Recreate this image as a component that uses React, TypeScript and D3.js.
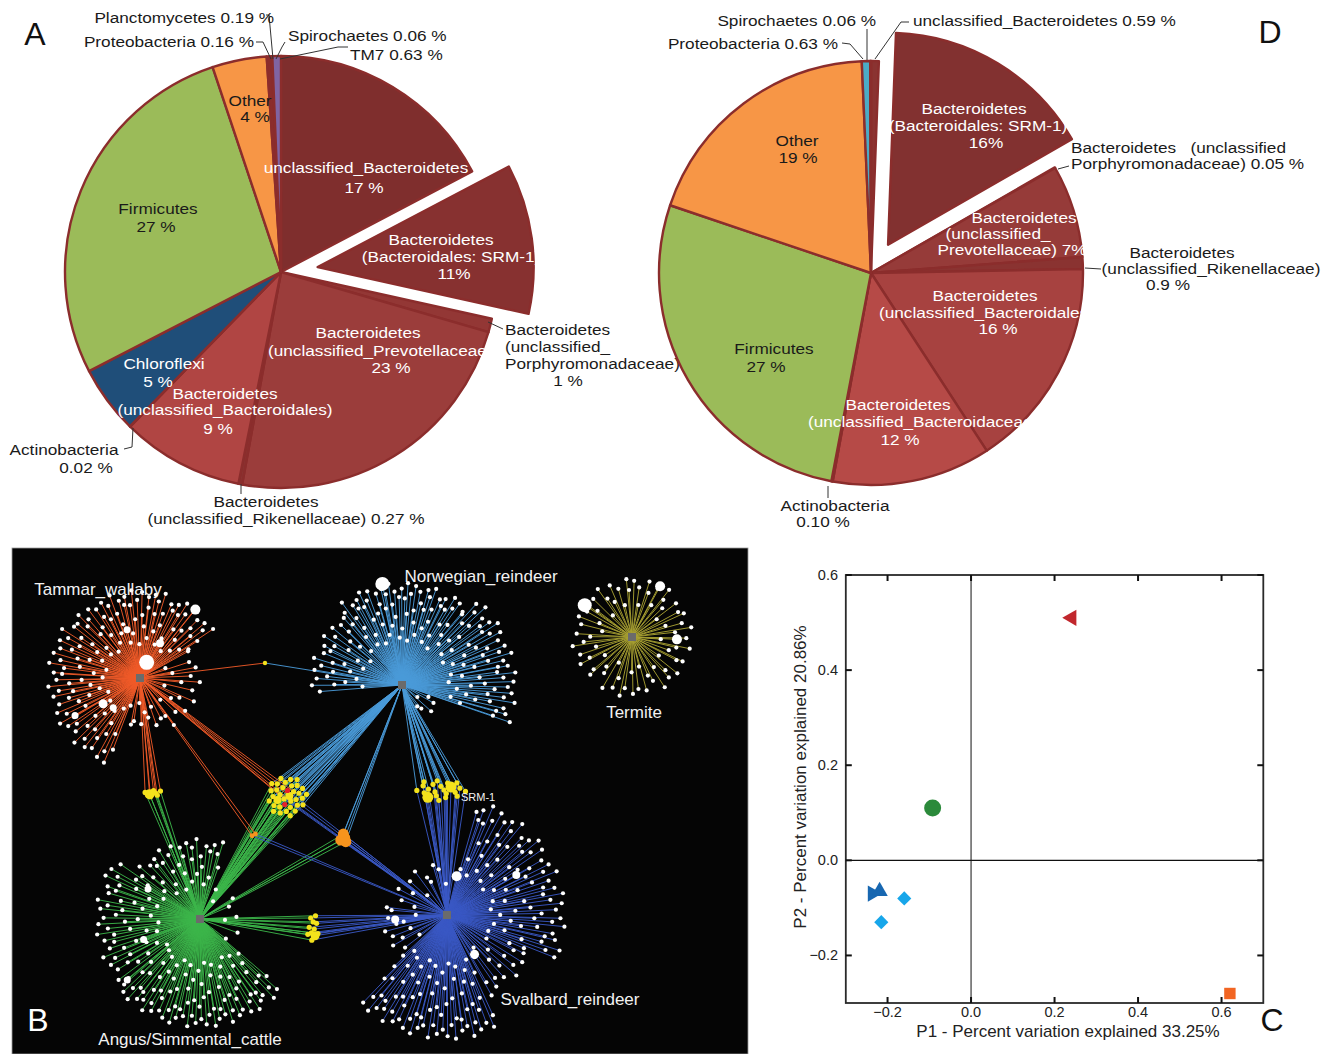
import React from "react";
import * as d3 from "d3";

const FONT = "'Liberation Sans', Arial, Helvetica, sans-serif";

// ---------------- Panel A: taxa composition (pie) ----------------
const taxaA = [
  "unclassified_Bacteroidetes",
  "Bacteroidetes (Bacteroidales: SRM-1)",
  "Bacteroidetes (unclassified_Porphyromonadaceae)",
  "Bacteroidetes (unclassified_Prevotellaceae)",
  "Bacteroidetes (unclassified_Rikenellaceae)",
  "Bacteroidetes (unclassified_Bacteroidales)",
  "Actinobacteria",
  "Chloroflexi",
  "Firmicutes",
  "Other",
  "Proteobacteria",
  "Planctomycetes",
  "Spirochaetes",
  "TM7",
];
const percentA = [17, 11, 1, 23, 0.27, 9, 0.02, 5, 27, 4, 0.16, 0.19, 0.06, 0.63];

// ---------------- Panel D: taxa composition (pie) ----------------
const taxaD = [
  "unclassified_Bacteroidetes",
  "Bacteroidetes (Bacteroidales: SRM-1)",
  "Bacteroidetes (unclassified_Porphyromonadaceae)",
  "Bacteroidetes (unclassified_Prevotellaceae)",
  "Bacteroidetes (unclassified_Rikenellaceae)",
  "Bacteroidetes (unclassified_Bacteroidales)",
  "Bacteroidetes (unclassified_Bacteroidaceae)",
  "Actinobacteria",
  "Firmicutes",
  "Other",
  "Proteobacteria",
  "Spirochaetes",
];
const percentD = [0.59, 16, 0.05, 7, 0.9, 16, 12, 0.1, 27, 19, 0.63, 0.06];

const explodedTaxon = "Bacteroidetes (Bacteroidales: SRM-1)";

// ---------------- Panel C: principal coordinates ----------------
const pcoaP1 = [0.241, -0.092, -0.236, -0.219, -0.16, -0.215, 0.62];
const pcoaP2 = [0.51, 0.11, -0.07, -0.065, -0.08, -0.13, -0.28];
const pcoaTicksX = [-0.2, 0.0, 0.2, 0.4, 0.6];
const pcoaTicksY = [-0.2, 0.0, 0.2, 0.4, 0.6];

// ---------------- Panel B: shared-OTU network ----------------
const hubNames = ["Tammar_wallaby", "Norwegian_reindeer", "Termite", "Angus/Simmental_cattle", "Svalbard_reindeer"];
const hubX = [128, 390, 620, 188, 435];
const hubY = [130, 137, 89, 371, 367];
// fans of hub-only OTUs: [fromDeg, toDeg, count, innerReach, outerReach]
const hubFans: number[][][] = [
  [[-50, 60, 66, 22, 88], [60, 150, 18, 18, 60], [150, 200, 10, 18, 50], [200, 310, 66, 22, 92]],
  [[-95, -40, 32, 28, 92], [-40, 40, 66, 32, 102], [40, 110, 62, 32, 114], [110, 150, 6, 15, 40]],
  [[0, 360, 74, 22, 60]],
  [[-55, 20, 36, 22, 80], [230, 305, 52, 28, 104], [180, 230, 46, 30, 108], [130, 180, 46, 30, 108], [20, 130, 8, 15, 40]],
  [[15, 115, 82, 28, 118], [115, 155, 18, 28, 92], [155, 226, 74, 32, 124], [226, 280, 14, 22, 64], [280, 360, 12, 22, 55]],
];
// abundant hub-only OTUs: [deg, reach, size]
const hubBigLeaves: number[][][] = [
  [[23, 17, 7.5], [39, 88, 5], [-15, 50, 3.5], [30, 40, 4], [235, 45, 4.5], [222, 40, 3.5], [240, 75, 3.5]],
  [[-11, 103, 7]],
  [[-56, 57, 7], [29, 58, 5], [93, 45, 5]],
  [[-60, 60, 3.5], [230, 95, 3.5], [250, 60, 3.5]],
  [[14, 40, 5], [145, 48, 4.5], [265, 52, 4], [60, 80, 4]],
];
const spokeReach = [0.92, 0.35, 0.78, 1.0, 0.56, 0.85, 0.18, 0.97, 0.62, 0.45, 0.9, 0.74, 0.28, 0.95, 0.66, 0.86, 0.4, 1.0, 0.7, 0.52, 0.88, 0.22, 0.8];
const spokeTwist = [0.1, -0.3, 0.25, -0.1, 0.35, -0.25, 0.05, 0.3, -0.35, 0.15, -0.05, 0.2, -0.2];

// shared OTU groups: centre, node count, spread, kind, linked hubs [hub, how many nodes]
const sharedCx = [141, 275, 428, 331, 301, 253, 242];
const sharedCy = [245, 248, 242, 290, 381, 115, 286];
const sharedCount = [7, 36, 22, 4, 11, 1, 2];
const sharedRx = [10, 20, 26, 5, 6, 0, 3];
const sharedRy = [4, 21, 11, 5, 15, 0, 3];
const sharedKind = ["yellow", "yellow", "yellow", "orange", "yellow", "yellow", "orange"];
const sharedLinks: number[][][] = [
  [[0, 7], [3, 7]],
  [[1, 36], [3, 36], [0, 6], [4, 5]],
  [[1, 22], [4, 22]],
  [[1, 4], [3, 4], [4, 4]],
  [[3, 11], [4, 11]],
  [[0, 1], [1, 1]],
  [[0, 2], [4, 2]],
];

// ---------------- styles ----------------
const colorsA = ["#7f2e2d", "#873130", "#933735", "#9b3d3b", "#8a3331", "#b04543", "#8a3331", "#1f4e79", "#9bbb59", "#f79646", "#4bacc6", "#8a3331", "#c0504d", "#8064a2"];
const colorsD = ["#8a3331", "#823130", "#8a3331", "#963b39", "#8a3331", "#a74240", "#b64a47", "#8a3331", "#9bbb59", "#f79646", "#4bacc6", "#8a3331"];
const hubColors = ["#f05a28", "#4a9ad8", "#a9a232", "#3cb54a", "#3a58c4"];
const pcoaColors = ["#c1272d", "#2b8a3b", "#1767b1", "#1767b1", "#17a6ea", "#17a6ea", "#f26522"];
const pcoaShapes = ["triLeft", "circle", "triRight", "triUp", "diamond", "diamond", "square"];

type Txt = { t: string; x: number; y: number; a?: "start" | "middle" | "end"; c?: string };

const labelsA: Txt[] = [
  { t: "unclassified_Bacteroidetes", x: 366, y: 167, c: "#fff" },
  { t: "17 %", x: 364, y: 187, c: "#fff" },
  { t: "Bacteroidetes", x: 441, y: 239, c: "#fff" },
  { t: "(Bacteroidales: SRM-1)", x: 451, y: 256, c: "#fff" },
  { t: "11%", x: 454, y: 273, c: "#fff" },
  { t: "Bacteroidetes", x: 368, y: 332, c: "#fff" },
  { t: "(unclassified_Prevotellaceae)", x: 268, y: 350, a: "start", c: "#fff" },
  { t: "23 %", x: 391, y: 367, c: "#fff" },
  { t: "Firmicutes", x: 158, y: 208 },
  { t: "27 %", x: 156, y: 226 },
  { t: "Other", x: 250, y: 100 },
  { t: "4 %", x: 255, y: 116 },
  { t: "Chloroflexi", x: 164, y: 363, c: "#fff" },
  { t: "5 %", x: 158, y: 381, c: "#fff" },
  { t: "Bacteroidetes", x: 225, y: 393, c: "#fff" },
  { t: "(unclassified_Bacteroidales)", x: 225, y: 409, c: "#fff" },
  { t: "9 %", x: 218, y: 428, c: "#fff" },
  { t: "Planctomycetes 0.19 %", x: 274, y: 17, a: "end" },
  { t: "Proteobacteria 0.16 %", x: 254, y: 41, a: "end" },
  { t: "Spirochaetes 0.06 %", x: 288, y: 35, a: "start" },
  { t: "TM7 0.63 %", x: 350, y: 54, a: "start" },
  { t: "Bacteroidetes", x: 505, y: 329, a: "start" },
  { t: "(unclassified_", x: 505, y: 346, a: "start" },
  { t: "Porphyromonadaceae)", x: 505, y: 363, a: "start" },
  { t: "1 %", x: 568, y: 380 },
  { t: "Actinobacteria", x: 64, y: 449 },
  { t: "0.02 %", x: 86, y: 467 },
  { t: "Bacteroidetes", x: 266, y: 501 },
  { t: "(unclassified_Rikenellaceae) 0.27 %", x: 286, y: 518 },
];
const leadersA: number[][][] = [
  [[266, 15], [269, 15], [273, 59]],
  [[256, 42], [263, 42], [271, 59]],
  [[285, 42], [282, 47], [276, 59]],
  [[348, 47], [338, 47], [280, 59]],
  [[488, 322], [503, 329]],
  [[133, 428], [132, 447], [124, 449]],
  [[241, 484], [241, 494]],
];

const labelsD: Txt[] = [
  { t: "Spirochaetes 0.06 %", x: 876, y: 20, a: "end" },
  { t: "unclassified_Bacteroidetes 0.59 %", x: 913, y: 20, a: "start" },
  { t: "Proteobacteria 0.63 %", x: 838, y: 43, a: "end" },
  { t: "Bacteroidetes", x: 974, y: 108, c: "#fff" },
  { t: "(Bacteroidales: SRM-1)", x: 978, y: 125, c: "#fff" },
  { t: "16%", x: 986, y: 142, c: "#fff" },
  { t: "Bacteroidetes   (unclassified", x: 1071, y: 147, a: "start" },
  { t: "Porphyromonadaceae) 0.05 %", x: 1071, y: 163, a: "start" },
  { t: "Other", x: 797, y: 140 },
  { t: "19 %", x: 798, y: 157 },
  { t: "Bacteroidetes", x: 1024, y: 217, c: "#fff" },
  { t: "(unclassified_", x: 998, y: 233, c: "#fff" },
  { t: "Prevotellaceae) 7%", x: 1012, y: 249, c: "#fff" },
  { t: "Bacteroidetes", x: 1182, y: 252 },
  { t: "(unclassified_Rikenellaceae)", x: 1211, y: 268 },
  { t: "0.9 %", x: 1168, y: 284 },
  { t: "Bacteroidetes", x: 985, y: 295, c: "#fff" },
  { t: "(unclassified_Bacteroidales)", x: 879, y: 312, a: "start", c: "#fff" },
  { t: "16 %", x: 998, y: 328, c: "#fff" },
  { t: "Firmicutes", x: 774, y: 348 },
  { t: "27 %", x: 766, y: 366 },
  { t: "Bacteroidetes", x: 898, y: 404, c: "#fff" },
  { t: "(unclassified_Bacteroidaceae)", x: 808, y: 421, a: "start", c: "#fff" },
  { t: "12 %", x: 900, y: 439, c: "#fff" },
  { t: "Actinobacteria", x: 835, y: 505 },
  { t: "0.10 %", x: 823, y: 521 },
];
const leadersD: number[][][] = [
  [[867, 29], [867, 60]],
  [[909, 22], [901, 22], [875, 59]],
  [[842, 43], [850, 44], [863, 59]],
  [[1069, 166], [1058, 169]],
  [[1085, 268], [1101, 269]],
  [[828, 486], [828, 498]],
];

// pie labels are set a little wide, as in the printed figure
const LABEL_SIZE = 15.5;
const LABEL_STRETCH = 1.11;

function Labels({ items }: { items: Txt[] }) {
  return (
    <g fontFamily={FONT} fontSize={LABEL_SIZE}>
      {items.map((d, i) => (
        <text
          key={i}
          transform={`translate(${d.x},${d.y}) scale(${LABEL_STRETCH},1)`}
          textAnchor={d.a ?? "middle"}
          dominantBaseline="central"
          fill={d.c ?? "#1a1a1a"}
          style={{ whiteSpace: "pre" }}
        >
          {d.t}
        </text>
      ))}
    </g>
  );
}

function Leaders({ lines }: { lines: number[][][] }) {
  const line = d3.line();
  return (
    <g fill="none" stroke="#333" strokeWidth={1}>
      {lines.map((pts, i) => (
        <path key={i} d={line(pts as [number, number][]) ?? ""} />
      ))}
    </g>
  );
}

function Pie({ cx, cy, r, taxa, values, colors, offset }: { cx: number; cy: number; r: number; taxa: string[]; values: number[]; colors: string[]; offset: number }) {
  const arcs = d3.pie<number>().sort(null).value((v) => v)(values);
  const arc = d3.arc<d3.PieArcDatum<number>>().innerRadius(0).outerRadius(r);
  return (
    <g transform={`translate(${cx},${cy})`}>
      {arcs.map((a, i) => {
        const mid = (a.startAngle + a.endAngle) / 2;
        const off = taxa[i] === explodedTaxon ? offset : 0;
        return (
          <path
            key={i}
            d={arc(a) ?? ""}
            transform={`translate(${off * Math.sin(mid)},${-off * Math.cos(mid)})`}
            fill={colors[i]}
            stroke="#8b2d2c"
            strokeWidth={2.4}
            strokeLinejoin="round"
          />
        );
      })}
    </g>
  );
}

// ---------------- network geometry ----------------
const bx = d3.scaleLinear().domain([0, 736]).range([12, 748]);
const by = d3.scaleLinear().domain([0, 506]).range([548, 1054]);
const rad = (deg: number) => (deg * Math.PI) / 180;

type Node = { x: number; y: number; r: number; fill: string };
type Edge = { x1: number; y1: number; x2: number; y2: number; color: string };

function buildNetwork() {
  const edges: Edge[] = [];
  const leaves: Node[] = [];
  const shared: Node[] = [];
  hubNames.forEach((_, h) => {
    const hx = hubX[h];
    const hy = hubY[h];
    let k = h * 5;
    const spokes: number[][] = [];
    hubFans[h].forEach(([a0, a1, n, r0, r1]) => {
      const step = (a1 - a0) / n;
      for (let i = 0; i < n; i++, k++) {
        const a = a0 + step * (i + 0.5 + spokeTwist[k % spokeTwist.length]);
        const r = r0 + (r1 - r0) * spokeReach[k % spokeReach.length];
        spokes.push([a, r, 2.1]);
      }
    });
    hubBigLeaves[h].forEach((s) => spokes.push(s));
    spokes.forEach(([a, r, s]) => {
      const x = hx + r * Math.sin(rad(a));
      const y = hy - r * Math.cos(rad(a));
      edges.push({ x1: bx(hx), y1: by(hy), x2: bx(x), y2: by(y), color: hubColors[h] });
      leaves.push({ x: bx(x), y: by(y), r: s, fill: "#ffffff" });
    });
  });
  const golden = Math.PI * (3 - Math.sqrt(5));
  sharedCx.forEach((cx, g) => {
    const n = sharedCount[g];
    const pts: Node[] = [];
    for (let i = 0; i < n; i++) {
      const rr = Math.sqrt((i + 0.5) / n);
      const th = i * golden;
      const x = cx + sharedRx[g] * rr * Math.cos(th);
      const y = sharedCy[g] + sharedRy[g] * rr * Math.sin(th);
      let fill = sharedKind[g] === "orange" ? "#f7941d" : "#f4e21c";
      let r = sharedKind[g] === "orange" ? (n > 2 ? 5.5 : 2.4) : 2.6;
      if (g === 1 && (i === 2 || i === 6)) fill = "#e8202a";
      if (g === 1 && (i === 0 || i === 9)) r = 4;
      if (g === 0 && i === 1) r = 5;
      if (g === 2 && (i === 5 || i === 14)) r = 5.5;
      if (g === 4 && i === 3) r = 4.5;
      if (g === 5) r = 2.2;
      pts.push({ x: bx(x), y: by(y), r, fill });
    }
    sharedLinks[g].forEach(([h, count]) => {
      pts.slice(0, count).forEach((p) =>
        edges.push({ x1: bx(hubX[h]), y1: by(hubY[h]), x2: p.x, y2: p.y, color: hubColors[h] })
      );
    });
    shared.push(...pts);
  });
  return { edges, leaves, shared };
}

// ---------------- PCoA scales ----------------
const px = d3.scaleLinear().domain([-0.3, 0.7]).range([845.8, 1263.3]);
const py = d3.scaleLinear().domain([-0.3, 0.6]).range([1003, 575]);

function marker(shape: string, x: number, y: number, color: string, key: number) {
  if (shape === "circle") return <circle key={key} cx={x} cy={y} r={8.5} fill={color} />;
  const sym = shape === "square" || shape === "diamond" ? d3.symbolSquare : d3.symbolTriangle;
  const size = shape === "square" ? 130 : shape === "diamond" ? 100 : 115;
  const rot = shape === "diamond" ? 45 : shape === "triLeft" ? -90 : shape === "triRight" ? 90 : 0;
  const d = d3.symbol().type(sym).size(size)() ?? "";
  return <path key={key} d={d} transform={`translate(${x},${y}) rotate(${rot})`} fill={color} />;
}

export default function App() {
  const net = buildNetwork();
  return (
    <svg width={1332} height={1054} style={{ position: "absolute", left: 0, top: 0, background: "#fff" }} fontFamily={FONT}>
      <rect x={0} y={0} width={1332} height={1054} fill="#fff" />

      {/* Panel A */}
      <Pie cx={281} cy={272} r={216} taxa={taxaA} values={percentA} colors={colorsA} offset={37} />
      <Leaders lines={leadersA} />
      <Labels items={labelsA} />
      <text x={35} y={34} fontSize={32} textAnchor="middle" dominantBaseline="central" fill="#111">A</text>

      {/* Panel D */}
      <Pie cx={871} cy={273} r={212} taxa={taxaD} values={percentD} colors={colorsD} offset={33} />
      <Leaders lines={leadersD} />
      <Labels items={labelsD} />
      <text x={1270} y={32} fontSize={32} textAnchor="middle" dominantBaseline="central" fill="#111">D</text>

      {/* Panel B */}
      <rect x={bx(0)} y={by(0)} width={bx(736) - bx(0)} height={by(506) - by(0)} fill="#050505" stroke="#9a9a9a" strokeWidth={0.8} />
      <g strokeWidth={1} strokeOpacity={0.92}>
        {net.edges.map((e, i) => (
          <line key={i} x1={e.x1} y1={e.y1} x2={e.x2} y2={e.y2} stroke={e.color} />
        ))}
      </g>
      <g>
        {net.leaves.map((n, i) => (
          <circle key={i} cx={n.x} cy={n.y} r={n.r} fill={n.fill} />
        ))}
        {net.shared.map((n, i) => (
          <circle key={i} cx={n.x} cy={n.y} r={n.r} fill={n.fill} />
        ))}
      </g>
      <g fill="#6b6b6b">
        {hubNames.map((h, i) => (
          <rect key={h} x={bx(hubX[i]) - 4} y={by(hubY[i]) - 4} width={8} height={8} />
        ))}
      </g>
      <g fontSize={17} fill="#f2f2f2">
        <text x={bx(86)} y={by(41)} textAnchor="middle" dominantBaseline="central">{hubNames[0]}</text>
        <text x={bx(469)} y={by(28)} textAnchor="middle" dominantBaseline="central">{hubNames[1]}</text>
        <text x={bx(622)} y={by(164)} textAnchor="middle" dominantBaseline="central">{hubNames[2]}</text>
        <text x={bx(178)} y={by(491)} textAnchor="middle" dominantBaseline="central">{hubNames[3]}</text>
        <text x={bx(558)} y={by(451)} textAnchor="middle" dominantBaseline="central">{hubNames[4]}</text>
        <text x={bx(449)} y={by(249)} fontSize={11} dominantBaseline="central">SRM-1</text>
        <text x={bx(26)} y={by(472)} fontSize={32} textAnchor="middle" dominantBaseline="central" fill="#fff">B</text>
      </g>

      {/* Panel C */}
      <g>
        <line x1={px(0)} x2={px(0)} y1={py(0.6)} y2={py(-0.3)} stroke="#111" strokeWidth={1} />
        <line x1={px(-0.3)} x2={px(0.7)} y1={py(0)} y2={py(0)} stroke="#111" strokeWidth={1.2} />
        <rect x={px(-0.3)} y={py(0.6)} width={px(0.7) - px(-0.3)} height={py(-0.3) - py(0.6)} fill="none" stroke="#2a2a2a" strokeWidth={1.8} />
        <g stroke="#111" strokeWidth={2}>
          {pcoaTicksX.map((t) => (
            <g key={t}>
              <line x1={px(t)} x2={px(t)} y1={py(-0.3)} y2={py(-0.3) - 6} />
              <line x1={px(t)} x2={px(t)} y1={py(0.6)} y2={py(0.6) + 6} />
            </g>
          ))}
          {pcoaTicksY.map((t) => (
            <g key={t}>
              <line x1={px(-0.3)} x2={px(-0.3) + 6} y1={py(t)} y2={py(t)} />
              <line x1={px(0.7)} x2={px(0.7) - 6} y1={py(t)} y2={py(t)} />
            </g>
          ))}
        </g>
        <g fontSize={14.5} fill="#222">
          {pcoaTicksX.map((t) => (
            <text key={t} x={px(t)} y={1012} textAnchor="middle" dominantBaseline="central">{d3.format(".1f")(t)}</text>
          ))}
          {pcoaTicksY.map((t) => (
            <text key={t} x={838} y={py(t)} textAnchor="end" dominantBaseline="central">{d3.format(".1f")(t)}</text>
          ))}
        </g>
        {pcoaP1.map((v, i) => marker(pcoaShapes[i], px(v), py(pcoaP2[i]), pcoaColors[i], i))}
        <text x={1068} y={1031} fontSize={17} textAnchor="middle" dominantBaseline="central" fill="#222">P1 - Percent variation explained 33.25%</text>
        <text transform={`translate(800,777) rotate(-90)`} fontSize={17} textAnchor="middle" dominantBaseline="central" fill="#222">P2 - Percent variation explained 20.86%</text>
        <text x={1272} y={1020} fontSize={32} textAnchor="middle" dominantBaseline="central" fill="#111">C</text>
      </g>
    </svg>
  );
}
